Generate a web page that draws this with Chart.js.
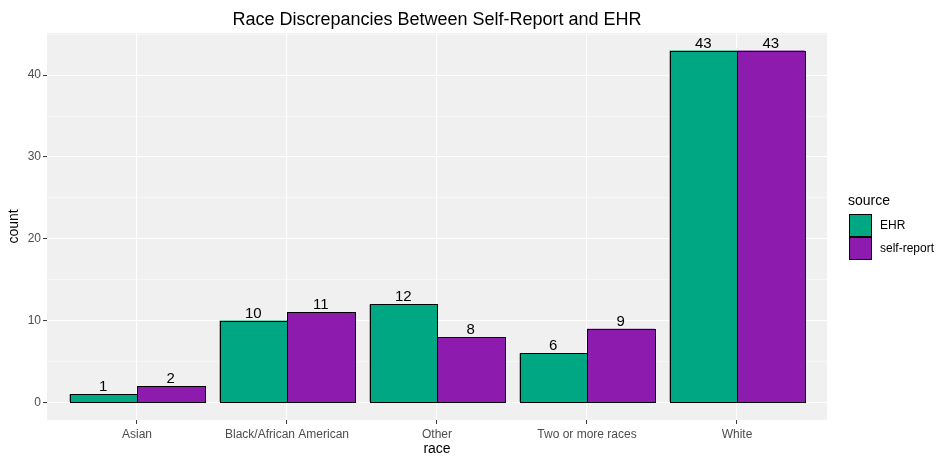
<!DOCTYPE html>
<html>
<head>
<meta charset="utf-8">
<script src="https://cdn.jsdelivr.net/npm/chart.js@4"></script>
<style>
html,body{margin:0;padding:0;background:#fff;}
canvas{display:block;}
</style>
</head>
<body>
<canvas id="c" width="951" height="464"></canvas>
<script>
const categories = ["Asian", "Black/African American", "Other", "Two or more races", "White"];
const ehrCounts = [1, 10, 12, 6, 43];
const selfReportCounts = [2, 11, 8, 9, 43];
const seriesNames = ["EHR", "self-report"];
const seriesColors = ["#00A783", "#8C1BAE"];
const yMajorTicks = [0, 10, 20, 30, 40];
const yMinorTicks = [5, 15, 25, 35, 45];
const titleText = "Race Discrepancies Between Self-Report and EHR";
const xTitle = "race";
const yTitle = "count";
const legendTitle = "source";

const FONT = "'Liberation Sans', Arial, sans-serif";
const PANEL_BG = "#F0F0F0";

const yMaxData = Math.max(...ehrCounts, ...selfReportCounts);
const yExp = yMaxData * 0.05;

const panelPlugin = {
  id: 'panel',
  beforeDraw(chart) {
    const {ctx, chartArea: a} = chart;
    ctx.save();
    ctx.fillStyle = PANEL_BG;
    ctx.fillRect(a.left, a.top, a.right - a.left, a.bottom - a.top);
    ctx.restore();
  },
  afterDatasetsDraw(chart) {
    const {ctx, chartArea: a} = chart;
    ctx.save();
    // bar fills + crisp outlines, positioned by the library's bar elements
    chart.data.datasets.forEach((ds, di) => {
      const meta = chart.getDatasetMeta(di);
      meta.data.forEach(bar => {
        const p = bar.getProps(['x', 'y', 'base', 'width'], true);
        const l = Math.round(p.x - p.width / 2) + 0.5;
        const r = Math.round(p.x + p.width / 2) + 0.5;
        const t = Math.round(p.y) + 0.5;
        const b = Math.round(p.base) + 0.5;
        ctx.fillStyle = ds.backgroundColor;
        ctx.fillRect(l, t, r - l, b - t);
        ctx.strokeStyle = '#000';
        ctx.lineWidth = 1;
        ctx.strokeRect(l, t, r - l, b - t);
      });
    });
    // value labels
    ctx.fillStyle = '#000';
    ctx.font = "15px " + FONT;
    ctx.textAlign = 'center';
    ctx.textBaseline = 'alphabetic';
    chart.data.datasets.forEach((ds, di) => {
      const meta = chart.getDatasetMeta(di);
      meta.data.forEach((bar, i) => {
        ctx.fillText(String(ds.data[i].y), bar.x, bar.y - 3);
      });
    });
    // title
    ctx.font = "18px " + FONT;
    ctx.fillText(titleText, (a.left + a.right) / 2, 25);
    // axis titles
    ctx.textBaseline = 'middle';
    ctx.font = "14px " + FONT;
    ctx.fillText(xTitle, (a.left + a.right) / 2, 449);
    ctx.save();
    ctx.translate(14, (a.top + a.bottom) / 2);
    ctx.rotate(-Math.PI / 2);
    ctx.fillText(yTitle, 0, 0);
    ctx.restore();
    // legend
    ctx.textAlign = 'left';
    ctx.font = "14px " + FONT;
    ctx.fillText(legendTitle, 848, 201);
    chart.data.datasets.forEach((ds, di) => {
      const y0 = 214 + di * 23;
      ctx.fillStyle = ds.backgroundColor;
      ctx.fillRect(849.5, y0 + 0.5, 22, 22);
      ctx.strokeStyle = '#000';
      ctx.lineWidth = 1;
      ctx.strokeRect(849.5, y0 + 0.5, 22, 22);
      ctx.fillStyle = '#000';
      ctx.font = "12px " + FONT;
      ctx.fillText(ds.label, 880, y0 + 12);
    });
    ctx.restore();
  }
};

const toPoints = arr => arr.map((v, i) => ({x: i + 1, y: v}));

new Chart(document.getElementById('c'), {
  type: 'bar',
  data: {
    datasets: [
      {label: seriesNames[0], data: toPoints(ehrCounts), backgroundColor: seriesColors[0], borderWidth: 0},
      {label: seriesNames[1], data: toPoints(selfReportCounts), backgroundColor: seriesColors[1], borderWidth: 0}
    ]
  },
  options: {
    responsive: false,
    animation: false,
    devicePixelRatio: 1,
    layout: {padding: {left: 0, right: 124, top: 33, bottom: 0}},
    datasets: {bar: {categoryPercentage: 0.9, barPercentage: 1.0}},
    plugins: {legend: {display: false}, title: {display: false}, tooltip: {enabled: false}},
    scales: {
      x: {
        type: 'linear',
        min: 0.4,
        max: categories.length + 0.6,
        offset: false,
        afterFit(s) { s.height = 44; },
        afterBuildTicks(s) { s.ticks = categories.map((c, i) => ({value: i + 1})); },
        grid: {offset: false, color: '#FFFFFF', lineWidth: 1.1, drawTicks: true, tickLength: 4, tickColor: '#333333', tickWidth: 1},
        border: {display: false},
        ticks: {
          color: '#4D4D4D', font: {size: 12, family: FONT}, padding: 3,
          maxRotation: 0, autoSkip: false,
          callback: v => categories[Math.round(v) - 1] ?? ''
        }
      },
      y: {
        type: 'linear',
        min: -yExp,
        max: yMaxData + yExp,
        afterFit(s) { s.width = 47; },
        afterBuildTicks(s) {
          s.ticks = [...yMajorTicks, ...yMinorTicks].sort((a, b) => a - b).map(v => ({value: v}));
        },
        grid: {
          color: '#FFFFFF',
          lineWidth: c => yMajorTicks.includes(c.tick.value) ? 1.1 : 0.5,
          drawTicks: true, tickLength: 4,
          tickColor: c => yMajorTicks.includes(c.tick.value) ? '#333333' : 'rgba(0,0,0,0)',
          tickWidth: 1
        },
        border: {display: false},
        ticks: {
          color: '#4D4D4D', font: {size: 12, family: FONT}, padding: 2,
          autoSkip: false,
          callback: v => yMajorTicks.includes(v) ? String(v) : ''
        }
      }
    }
  },
  plugins: [panelPlugin]
});
</script>
</body>
</html>
